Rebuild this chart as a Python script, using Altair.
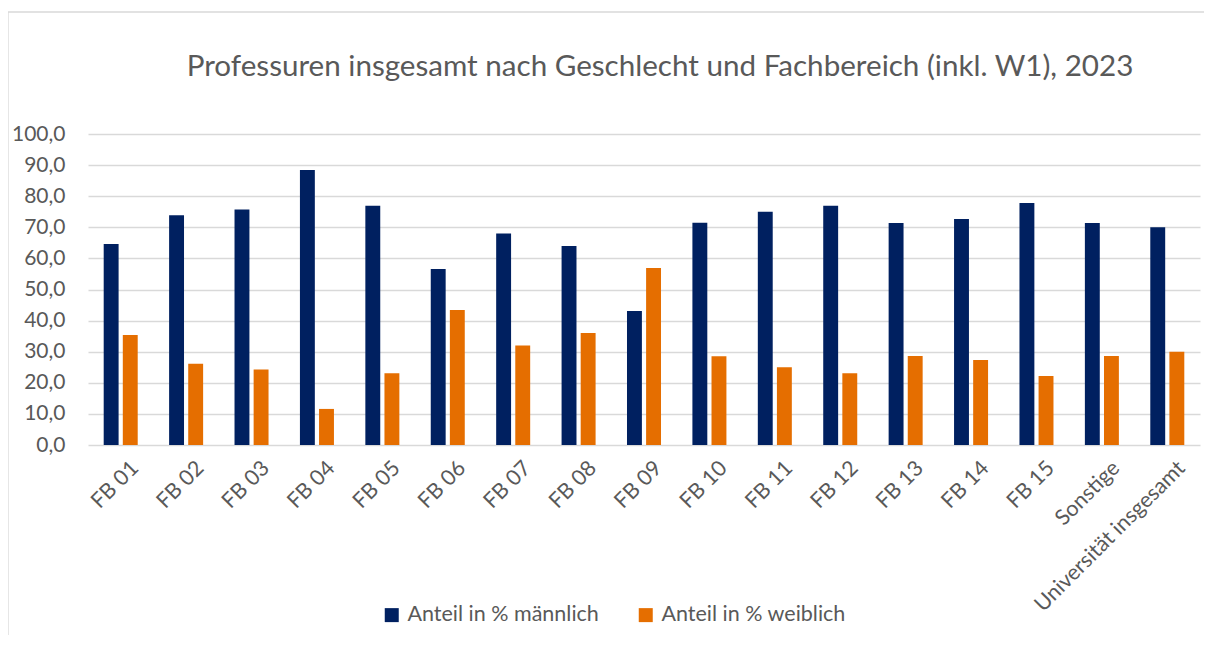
import altair as alt
import pandas as pd

categories = ["FB 01", "FB 02", "FB 03", "FB 04", "FB 05", "FB 06", "FB 07", "FB 08",
              "FB 09", "FB 10", "FB 11", "FB 12", "FB 13", "FB 14", "FB 15",
              "Sonstige", "Universität insgesamt"]
male = [64.6, 73.9, 75.7, 88.4, 76.9, 56.6, 68.0, 64.0, 43.1, 71.5, 75.0, 76.9,
        71.4, 72.7, 77.8, 71.4, 70.0]
female = [35.4, 26.1, 24.3, 11.6, 23.1, 43.4, 32.0, 36.0, 56.9, 28.5, 25.0, 23.1,
          28.6, 27.3, 22.2, 28.6, 30.0]
series = ["Anteil in % männlich", "Anteil in % weiblich"]
colors = ["#002060", "#E56E00"]
title_text = "Professuren insgesamt nach Geschlecht und Fachbereich (inkl. W1), 2023"

rows = []
for c, m, f in zip(categories, male, female):
    rows.append({"cat": c, "series": series[0], "value": m})
    rows.append({"cat": c, "series": series[1], "value": f})
df = pd.DataFrame(rows)
one = pd.DataFrame({"t": [title_text]})

FONT = "Lato"
GREY = "#595959"

bars = alt.Chart(df).mark_bar().encode(
    x=alt.X("cat:N", sort=categories,
            scale=alt.Scale(paddingInner=0.48, paddingOuter=0.24),
            axis=alt.Axis(title=None, labelAngle=-45, labelFontSize=21.5, labelColor=GREY,
                          labelFont=FONT, ticks=False, domain=False, labelPadding=12,
                          labelOffset=7, labelLimit=400)),
    xOffset=alt.XOffset("series:N", sort=series, scale=alt.Scale(paddingInner=0.22)),
    y=alt.Y("value:Q", scale=alt.Scale(domain=[0, 100]),
            axis=alt.Axis(title=None, values=list(range(0, 101, 10)), labelFontSize=21,
                          labelColor=GREY, labelFont=FONT, ticks=False, domain=False,
                          labelPadding=23, gridColor="#d9d9d9", gridWidth=1.3,
                          labelExpr="replace(format(datum.value, '.1f'), '.', ',')")),
    color=alt.Color("series:N", sort=series,
                    scale=alt.Scale(domain=series, range=colors),
                    legend=alt.Legend(title=None, orient="none", legendX=293, legendY=470,
                                      direction="horizontal", symbolType="square",
                                      symbolSize=196, symbolStrokeWidth=0,
                                      labelFontSize=21.5, labelColor=GREY, labelFont=FONT,
                                      labelLimit=400, columnPadding=36, symbolOffset=0,
                                      labelOffset=5)),
)

title = alt.Chart(one).mark_text(fontSize=29.6, color=GREY, font=FONT, fontWeight="normal",
                                 align="center", baseline="middle").encode(
    x=alt.value(572), y=alt.value(-67), text="t:N")

frame_left = alt.Chart(one).mark_rule(color="#d9d9d9", strokeWidth=1.3).encode(
    x=alt.value(-80), y=alt.value(-122), y2=alt.value(520))
frame_top = alt.Chart(one).mark_rule(color="#d9d9d9", strokeWidth=1.3).encode(
    x=alt.value(-80), x2=alt.value(1120), y=alt.value(-122))

chart = alt.layer(bars, title, frame_left, frame_top).properties(
    width=1112, height=311,
    padding={"left": 80, "top": 126, "right": 4, "bottom": 190},
    autosize=alt.AutoSizeParams(type="none"),
).configure_view(stroke=None)

chart.save("out.html", embed_options={"renderer": "svg", "actions": False})
